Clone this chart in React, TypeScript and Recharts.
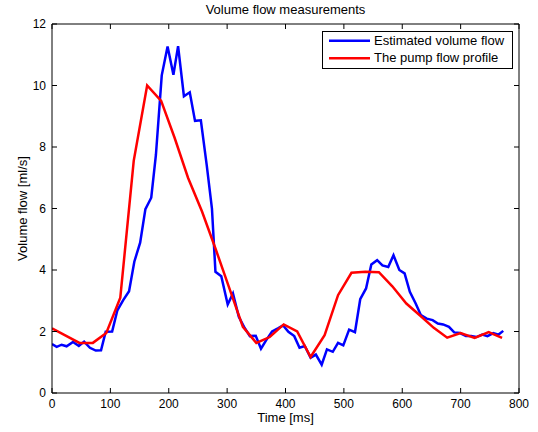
import React from 'react';
import { LineChart, Line, XAxis, YAxis, Legend, Label } from 'recharts';

const estTime = [0, 8, 16.5, 25, 36, 46, 55, 65, 75, 84, 92, 103, 112, 122, 132, 141, 151, 160, 170, 178, 188, 198, 208, 216, 226, 236, 245, 255, 265, 274, 280, 290, 301, 310, 320, 329, 339, 349, 358, 367, 377, 387, 396, 405, 415, 424, 433, 443, 452, 462, 471, 481, 490, 499, 509, 519, 528, 538, 547, 557, 566, 576, 585, 595, 604, 613, 623, 632, 642, 652, 661, 670, 680, 689, 699, 709, 718, 727, 737, 746, 756, 765, 773];
const estFlow = [1.59, 1.5, 1.57, 1.52, 1.66, 1.53, 1.67, 1.47, 1.38, 1.39, 1.99, 2.0, 2.69, 3.02, 3.31, 4.27, 4.89, 5.98, 6.35, 7.74, 10.33, 11.27, 10.35, 11.28, 9.65, 9.78, 8.85, 8.87, 7.42, 6.0, 3.94, 3.8, 2.88, 3.24, 2.48, 2.15, 1.85, 1.86, 1.44, 1.72, 2.0, 2.1, 2.2, 1.99, 1.85, 1.47, 1.53, 1.15, 1.25, 0.92, 1.42, 1.34, 1.63, 1.55, 2.06, 1.98, 3.05, 3.4, 4.18, 4.32, 4.15, 4.1, 4.48, 4.0, 3.89, 3.29, 2.91, 2.53, 2.42, 2.37, 2.26, 2.23, 2.15, 1.97, 1.95, 1.85, 1.85, 1.82, 1.9, 1.85, 1.95, 1.9, 2.02];

const pumpTime = [0, 47, 70, 93, 117, 140, 163, 187, 210, 233, 257, 280, 303, 327, 350, 373, 397, 420, 443, 467, 490, 513, 537, 560, 583, 607, 630, 654, 677, 700, 724, 748, 771];
const pumpFlow = [2.1, 1.63, 1.63, 1.95, 3.1, 7.55, 10.0, 9.5, 8.3, 7.0, 5.9, 4.7, 3.45, 2.15, 1.63, 1.82, 2.23, 2.0, 1.17, 1.88, 3.18, 3.91, 3.94, 3.93, 3.47, 2.91, 2.53, 2.12, 1.8, 1.95, 1.79, 1.98, 1.79];

const xTicks = [0, 100, 200, 300, 400, 500, 600, 700, 800];
const yTicks = [0, 2, 4, 6, 8, 10, 12];

const seriesNames = ['Estimated volume flow', 'The pump flow profile'];
const seriesColors = ['#0000ff', '#ff0000'];

const estData = estTime.map((t, i) => ({ t, v: estFlow[i] }));
const pumpData = pumpTime.map((t, i) => ({ t, v: pumpFlow[i] }));

const FONT = '"Liberation Sans", Arial, Helvetica, sans-serif';

const renderLegend = () => (
  <div style={{ width: 191, height: 38, position: 'relative' }}>
    <svg width={191} height={38} style={{ position: 'absolute', left: 0, top: 0 }}>
      <rect x={0.5} y={0.5} width={190} height={37} fill="#fff" stroke="#000" strokeWidth={1} />
      {seriesNames.map((name, i) => (
        <g key={name}>
          <line x1={7} x2={48} y1={9.7 + i * 17.6} y2={9.7 + i * 17.6} stroke={seriesColors[i]} strokeWidth={2.5} />
          <text x={52} y={14.2 + i * 17.2} fontFamily={FONT} fontSize={13} fill="#000">{name}</text>
        </g>
      ))}
    </svg>
  </div>
);

export default function App() {
  const tickStyle = { fill: '#000', fontSize: 12, fontFamily: FONT };
  const axisLine = { stroke: '#000', strokeWidth: 1 };
  return (
    <div style={{ position: 'absolute', left: 0, top: 0, width: 538, height: 432, background: '#fff' }}>
      <LineChart width={538} height={432} data={estData} margin={{ top: 23, right: 18, bottom: 0, left: 0 }}>
        <XAxis
          xAxisId="bottom"
          dataKey="t"
          type="number"
          domain={[0, 800]}
          ticks={xTicks}
          interval={0}
          allowDataOverflow
          height={39}
          tickSize={-5}
          tickMargin={11}
          tick={tickStyle}
          axisLine={axisLine}
          tickLine={{ stroke: '#000' }}
        >
          <Label value="Time [ms]" position="insideBottom" offset={10} fill="#000" fontSize={13} fontFamily={FONT} />
        </XAxis>
        <XAxis
          xAxisId="top"
          orientation="top"
          dataKey="t"
          type="number"
          domain={[0, 800]}
          ticks={xTicks}
          interval={0}
          allowDataOverflow
          height={1}
          tickSize={-5}
          tickMargin={0}
          tick={{ fontSize: 1, fill: 'none' }}
          tickFormatter={() => ''}
          axisLine={axisLine}
          tickLine={{ stroke: '#000' }}
        >
          <Label value="Volume flow measurements" position="top" offset={9} fill="#000" fontSize={13} fontFamily={FONT} />
        </XAxis>
        <YAxis
          yAxisId="left"
          type="number"
          domain={[0, 12]}
          ticks={yTicks}
          interval={0}
          allowDataOverflow
          width={52}
          tickSize={-5}
          tickMargin={11}
          tick={tickStyle}
          axisLine={axisLine}
          tickLine={{ stroke: '#000' }}
        >
          <Label value="Volume flow [ml/s]" angle={-90} position="center" dx={-4} fill="#000" fontSize={13} fontFamily={FONT} />
        </YAxis>
        <YAxis
          yAxisId="right"
          orientation="right"
          type="number"
          domain={[0, 12]}
          ticks={yTicks}
          interval={0}
          allowDataOverflow
          width={1}
          tickSize={-5}
          tickMargin={0}
          tick={{ fontSize: 1, fill: 'none' }}
          tickFormatter={() => ''}
          axisLine={axisLine}
          tickLine={{ stroke: '#000' }}
        />
        <Line
          xAxisId="top"
          yAxisId="right"
          data={estData}
          dataKey="v"
          stroke="none"
          strokeWidth={0}
          dot={false}
          activeDot={false}
          legendType="none"
          isAnimationActive={false}
        />
        <Line
          xAxisId="bottom"
          yAxisId="left"
          data={estData}
          dataKey="v"
          name={seriesNames[0]}
          stroke={seriesColors[0]}
          strokeWidth={2.5}
          dot={false}
          activeDot={false}
          type="linear"
          isAnimationActive={false}
        />
        <Line
          xAxisId="bottom"
          yAxisId="left"
          data={pumpData}
          dataKey="v"
          name={seriesNames[1]}
          stroke={seriesColors[1]}
          strokeWidth={2.5}
          dot={false}
          activeDot={false}
          type="linear"
          isAnimationActive={false}
        />
        <Legend
          layout="horizontal"
          verticalAlign="middle"
          align="center"
          content={renderLegend}
          wrapperStyle={{ position: 'absolute', left: 322, top: 31, width: 191, height: 38 }}
        />
      </LineChart>
    </div>
  );
}
